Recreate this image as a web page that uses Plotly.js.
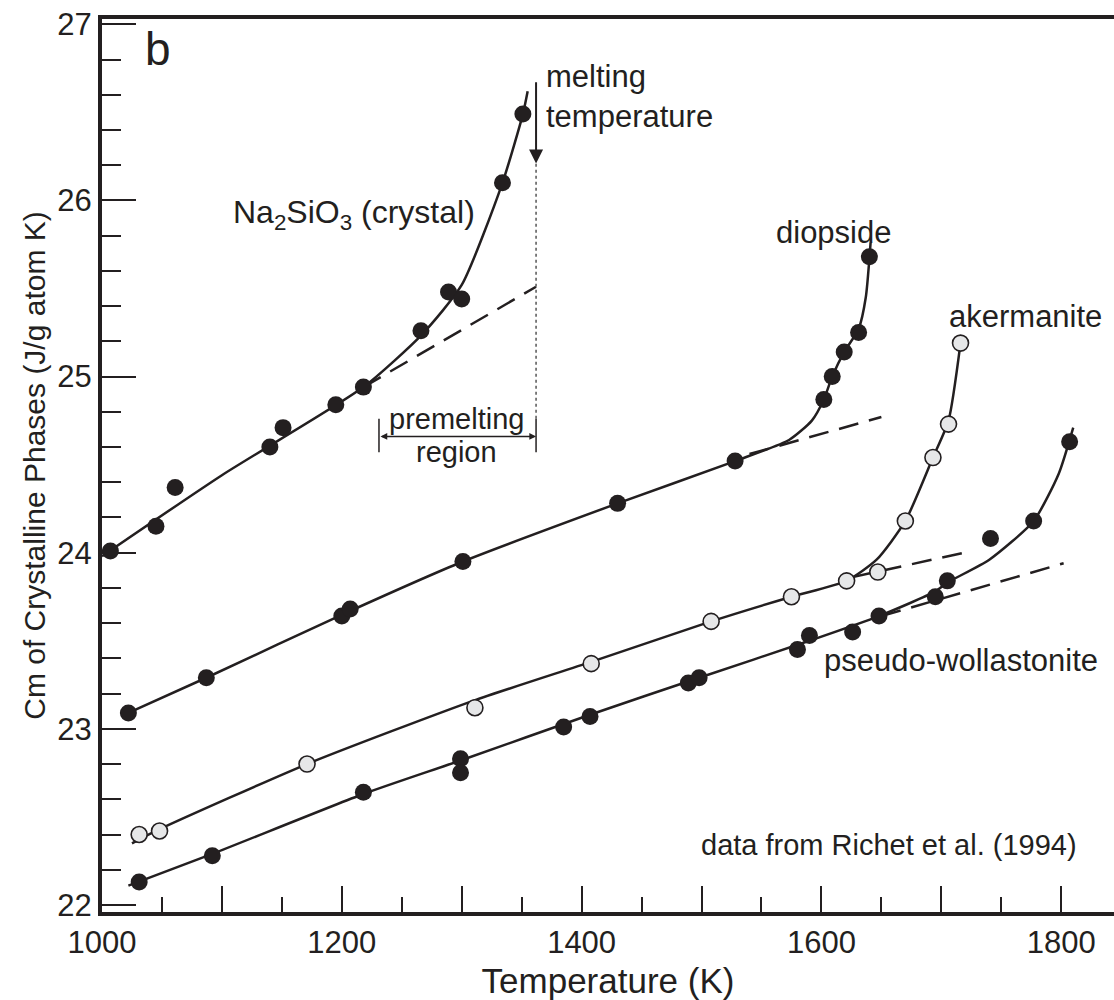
<!DOCTYPE html>
<html>
<head>
<meta charset="utf-8">
<script src="https://cdn.plot.ly/plotly-3.0.1.min.js"></script>
<style>html,body{margin:0;padding:0;background:#fff}#chart{width:1114px;height:1000px}</style>
</head>
<body>
<div id="chart"></div>
<script>
// ---- data (T in K, Cm in J/g atom K) ----
const naT = [1007,1045,1061,1140,1151,1195,1218,1266,1289,1300,1334,1351];
const naC = [24.01,24.15,24.37,24.60,24.71,24.84,24.94,25.26,25.48,25.44,26.10,26.49];
const naCurveT = [1000,1100,1218,1267,1300,1334,1351,1355];
const naCurveC = [23.98,24.44,24.94,25.24,25.52,26.10,26.49,26.62];
const naDashT = [1218,1362];
const naDashC = [24.94,25.51];

const diT = [1022,1087,1200,1207,1301,1430,1528,1602,1609,1619,1631,1640];
const diC = [23.09,23.29,23.64,23.68,23.95,24.28,24.52,24.87,25.00,25.14,25.25,25.68];
const diCurveT = [1022,1087,1204,1301,1430,1528,1573,1592,1602,1609,1619,1631,1637,1641];
const diCurveC = [23.09,23.29,23.66,23.95,24.28,24.52,24.64,24.75,24.87,25.00,25.14,25.27,25.45,25.76];
const diDashT = [1540,1650];
const diDashC = [24.56,24.77];

const akT = [1031,1048,1171,1311,1408,1508,1575,1621,1647,1670,1693,1706,1716];
const akC = [22.40,22.42,22.80,23.12,23.37,23.61,23.75,23.84,23.89,24.18,24.54,24.73,25.19];
const akCurveT = [1025,1048,1171,1310,1408,1508,1575,1621,1646,1670,1693,1706,1716];
const akCurveC = [22.35,22.43,22.80,23.16,23.38,23.61,23.75,23.84,23.96,24.18,24.54,24.75,25.19];
const akDashT = [1625,1719];
const akDashC = [23.86,24.00];

const pwT = [1031,1092,1218,1299,1299,1385,1407,1489,1498,1580,1590,1626,1648,1695,1705,1741,1777,1807];
const pwC = [22.13,22.28,22.64,22.83,22.75,23.01,23.07,23.26,23.29,23.45,23.53,23.55,23.64,23.75,23.84,24.08,24.18,24.63];
const pwCurveT = [1022,1092,1218,1299,1407,1498,1590,1648,1695,1705,1740,1777,1798,1810];
const pwCurveC = [22.11,22.29,22.63,22.82,23.08,23.29,23.50,23.64,23.78,23.83,23.96,24.18,24.45,24.71];
const pwDashT = [1650,1802];
const pwDashC = [23.64,23.94];

const meltT = 1362;          // melting temperature of Na2SiO3
const premeltStartT = 1231;  // start of premelting region

// ---- styles ----
const INK = '#231f20';
const FONT = 'Liberation Sans, Arial, Helvetica, sans-serif';
const curveLine = {color: INK, width: 2.5, shape: 'spline', smoothing: 0.6};
const dashLine = {color: INK, width: 2.5, dash: '20px,11px'};
const filled = {size: 17, color: INK, line: {width: 0}};
const openM = {size: 16, color: '#e6e7e8', line: {width: 1.6, color: INK}};

function curve(x, y){ return {x, y, mode: 'lines', line: curveLine, hoverinfo: 'skip'}; }
function dash(x, y){ return {x, y, mode: 'lines', line: dashLine, hoverinfo: 'skip'}; }
function pts(x, y, m){ return {x, y, mode: 'markers', marker: m}; }

const data = [
  dash(naDashT, naDashC), dash(diDashT, diDashC), dash(akDashT, akDashC), dash(pwDashT, pwDashC),
  curve(naCurveT, naCurveC), curve(diCurveT, diCurveC), curve(akCurveT, akCurveC), curve(pwCurveT, pwCurveC),
  pts(naT, naC, filled), pts(diT, diC, filled), pts(akT, akC, openM), pts(pwT, pwC, filled)
];

const txt = (sz) => ({family: FONT, size: sz, color: INK});

const layout = {
  width: 1114, height: 1000,
  margin: {l: 102, r: 0, t: 19, b: 88, pad: 0},
  paper_bgcolor: '#fff', plot_bgcolor: '#fff',
  showlegend: false,
  font: {family: FONT, color: INK, size: 31},
  xaxis: {
    range: [1000, 1844], showgrid: false, zeroline: false,
    showline: true, linecolor: INK, linewidth: 4, mirror: true,
    ticks: 'inside', tickcolor: INK, tickwidth: 2, ticklen: 26,
    tick0: 1000, dtick: 100, ticklabelstep: 2,
    tickfont: txt(31),
    minor: {ticks: 'inside', dtick: 50, tick0: 1000, ticklen: 15, tickwidth: 2, tickcolor: INK, showgrid: false},
    title: {text: 'Temperature (K)', font: txt(35), standoff: 10}
  },
  yaxis: {
    range: [21.96, 27.03], showgrid: false, zeroline: false,
    showline: true, linecolor: INK, linewidth: 4,
    ticks: 'inside', tickcolor: INK, tickwidth: 2, ticklen: 34,
    tick0: 22, dtick: 1,
    tickfont: txt(31),
    minor: {ticks: 'inside', dtick: 0.2, tick0: 22, ticklen: 19, tickwidth: 2, tickcolor: INK, showgrid: false},
    title: {text: 'Cm of Crystalline Phases (J/g atom K)', font: txt(30), standoff: 4}
  },
  shapes: [
    {type: 'line', xref: 'x', yref: 'y', x0: meltT, x1: meltT, y0: 24.76, y1: 26.21,
     line: {color: '#555', width: 1.5, dash: 'dot'}},
    {type: 'line', xref: 'x', yref: 'y', x0: premeltStartT, x1: premeltStartT, y0: 24.57, y1: 24.76,
     line: {color: INK, width: 1.5}},
    {type: 'line', xref: 'x', yref: 'y', x0: meltT, x1: meltT, y0: 24.57, y1: 24.76,
     line: {color: INK, width: 1.5}}
  ],
  annotations: [
    {text: 'b', xref: 'x', yref: 'y', x: 1047, y: 26.86, showarrow: false, font: txt(46)},
    {text: 'Na<sub>2</sub>SiO<sub>3</sub> (crystal)', xref: 'x', yref: 'y', x: 1313, y: 25.92,
     xanchor: 'right', showarrow: false, font: txt(32)},
    {text: 'melting<br>temperature', xref: 'x', yref: 'y', x: 1369, y: 26.59, xanchor: 'left', align: 'left',
     showarrow: false, font: txt(31)},
    {text: '', xref: 'x', yref: 'y', axref: 'x', ayref: 'y', x: meltT, y: 26.21, ax: meltT, ay: 26.68,
     showarrow: true, arrowhead: 2, arrowsize: 1.4, arrowwidth: 2, arrowcolor: INK, standoff: 0},
    {text: '', xref: 'x', yref: 'y', axref: 'x', ayref: 'y', x: meltT, y: 24.66, ax: premeltStartT, ay: 24.66,
     showarrow: true, arrowhead: 2, arrowside: 'end+start', arrowsize: 0.9, arrowwidth: 1.5, arrowcolor: INK,
     standoff: 0, startstandoff: 0},
    {text: 'premelting', xref: 'x', yref: 'y', x: 1296, y: 24.76, showarrow: false, font: txt(29)},
    {text: 'region', xref: 'x', yref: 'y', x: 1296, y: 24.57, showarrow: false, font: txt(29)},
    {text: 'diopside', xref: 'x', yref: 'y', x: 1610, y: 25.82, showarrow: false, font: txt(31)},
    {text: 'akermanite', xref: 'x', yref: 'y', x: 1770, y: 25.34, showarrow: false, font: txt(31)},
    {text: 'pseudo-wollastonite', xref: 'x', yref: 'y', x: 1716, y: 23.39, showarrow: false, font: txt(31)},
    {text: 'data from Richet et al. (1994)', xref: 'x', yref: 'y', x: 1815, y: 22.34, xanchor: 'right',
     showarrow: false, font: txt(29)}
  ]
};

Plotly.newPlot('chart', data, layout, {staticPlot: true, displayModeBar: false});
</script>
</body>
</html>
